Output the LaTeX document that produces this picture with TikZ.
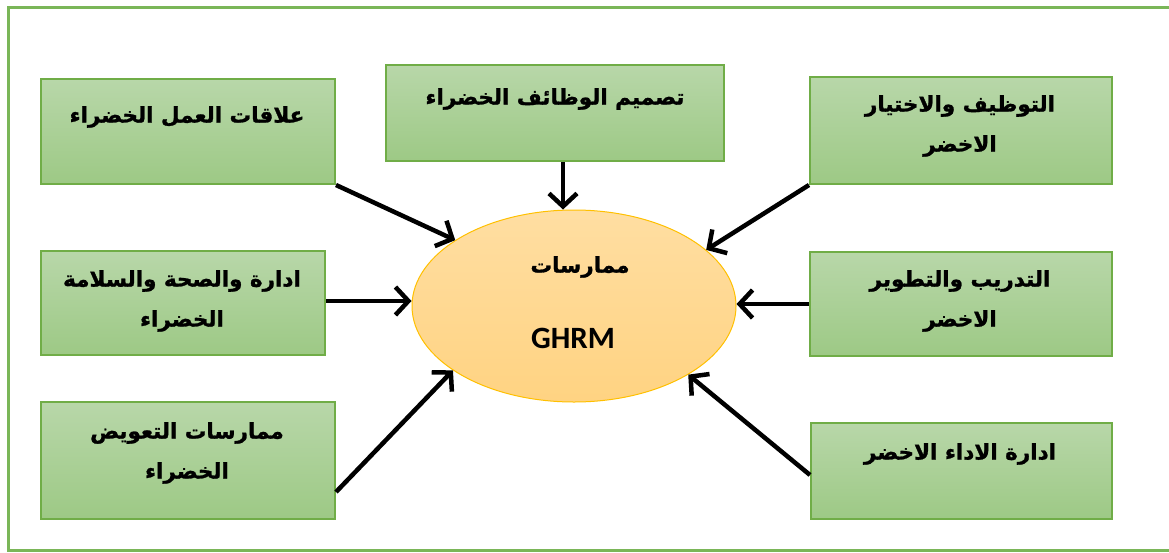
\documentclass[tikz,border=0pt]{standalone}
\usepackage{fontspec}
\usetikzlibrary{shapes.geometric,arrows.meta}
\TeXXeTstate=1
\newfontfamily\arabicfont[Script=Arabic, BoldFeatures={FakeBold=1.2}]{DejaVu Sans}
\newfontfamily\latinfont{Carlito}

\definecolor{frameGreen}{RGB}{122,182,88}
\definecolor{boxTop}{RGB}{184,215,169}
\definecolor{boxBot}{RGB}{157,201,133}
\definecolor{boxEdge}{RGB}{112,173,71}
\definecolor{ovalTop}{RGB}{255,222,162}
\definecolor{ovalBot}{RGB}{255,211,130}
\definecolor{ovalEdge}{RGB}{255,192,0}

\tikzset{
  greenbox/.style={draw=boxEdge, line width=2pt, top color=boxTop, bottom color=boxBot,
    inner sep=0pt, anchor=north west},
  lbl/.style={font=\arabicfont\bfseries\fontsize{21.5}{40}\selectfont, align=center, inner sep=0pt},
  arr/.style={line width=4.5pt, -{Straight Barb[length=13pt, width=28pt, line width=4.5pt]}},
}

\begin{document}
\begin{tikzpicture}[x=1pt, y=-1pt]
\useasboundingbox (0,0) rectangle (1169,552);

% outer frame (its right side runs past the page)
\draw[frameGreen, line width=3pt] (8,7) rectangle (1190,550);

% practice boxes
\node[greenbox, minimum width=294pt, minimum height=105pt] (b1) at (40,78) {};
\node[greenbox, minimum width=338pt, minimum height=96pt]  (b2) at (385,64) {};
\node[greenbox, minimum width=302pt, minimum height=107pt] (b3) at (809,76) {};
\node[greenbox, minimum width=302pt, minimum height=104pt] (b4) at (809,251) {};
\node[greenbox, minimum width=284pt, minimum height=104pt] (b5) at (40,250) {};
\node[greenbox, minimum width=294pt, minimum height=117pt] (b6) at (40,401) {};
\node[greenbox, minimum width=301pt, minimum height=96pt]  (b7) at (810,422) {};

% box labels
\node[lbl] (t1) at (187,117) {\beginR علاقات العمل الخضراء\endR};
\node[lbl] (t2) at (555,99) {\beginR تصميم الوظائف الخضراء\endR};
\node[lbl] (t3) at (960,126) {\beginR التوظيف والاختيار\endR\\\beginR الاخضر\endR};
\node[lbl] (t4) at (960,301) {\beginR التدريب والتطوير\endR\\\beginR الاخضر\endR};
\node[lbl] (t5) at (182,301) {\beginR ادارة والصحة والسلامة\endR\\\beginR الخضراء\endR};
\node[lbl] (t6) at (187,453) {\beginR ممارسات التعويض\endR\\\beginR الخضراء\endR};
\node[lbl] (t7) at (960,454) {\beginR ادارة الاداء الاخضر\endR};

% central ellipse
\node[ellipse, draw=ovalEdge, line width=1pt, top color=ovalTop, bottom color=ovalBot,
      minimum width=324pt, minimum height=192pt, inner sep=0pt] (ell) at (574,306) {};
\node[lbl] (c1) at (580,267) {\beginR ممارسات\endR};
\node[font=\latinfont\bfseries\fontsize{31}{36}\selectfont, inner sep=0pt] (c2) at (573,338) {GHRM};

% connectors
\draw[arr] (b1.south east) -- (ell.151);
\draw[arr] ([xshift=8pt]b2.south) -- ([xshift=8pt]b2.south |- ell.north);
\draw[arr] (b3.south west) -- (ell.23);
\draw[arr] (b4.west) -- (b4.west -| ell.east);
\draw[arr] ([yshift=2pt]b5.east) -- ([yshift=2pt]b5.east -| ell.west);
\draw[arr] ([yshift=28pt]b6.south east) -- (ell.208);
\draw[arr] ([yshift=-4pt]b7.west) -- (ell.329);
\end{tikzpicture}
\end{document}
